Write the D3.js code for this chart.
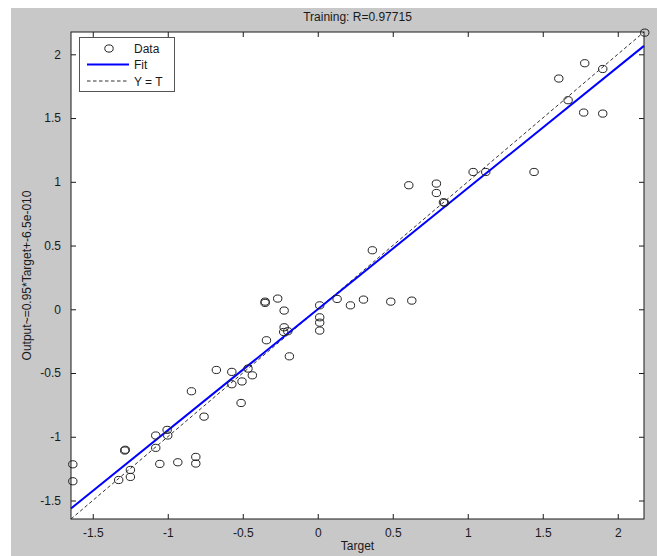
<!DOCTYPE html>
<html>
<head>
<meta charset="utf-8">
<script src="https://cdn.jsdelivr.net/npm/d3@7"></script>
<style>
  html, body { margin: 0; padding: 0; background: #ffffff; }
  svg { display: block; }
  text { font-family: "Liberation Sans", Arial, Helvetica, sans-serif; fill: #1a1a1a; }
</style>
</head>
<body>
<svg id="chart" width="657" height="556"></svg>
<script>
// Training regression: network outputs against targets
const targets = [
  2.18, 1.78, 1.90, 1.607, 1.669, 1.773, 1.90, 1.442, 1.036, 1.12,
  0.607, 0.791, 0.791, 0.838, 0.845, 0.364, 0.305, 0.487, 0.627,
  -0.351, -0.351, -0.267, -0.224, 0.013, 0.129, 0.218, 0.013, 0.013, 0.013,
  -0.224, -0.227, -0.200, -0.342, -0.189, -0.465, -0.436, -0.505,
  -0.676, -0.573, -0.573, -0.842, -0.511, -0.758, -1.004, -1.080, -1.000,
  -1.080, -1.287, -1.283, -1.053, -0.933, -0.813, -0.813, -1.249, -1.249,
  -1.327, -1.633, -1.633
];
const outputs = [
  2.17, 1.93, 1.885, 1.81, 1.64, 1.543, 1.535, 1.077, 1.077, 1.077,
  0.973, 0.986, 0.912, 0.840, 0.835, 0.463, 0.076, 0.060, 0.068,
  0.060, 0.050, 0.084, -0.010, 0.031, 0.081, 0.031, -0.063, -0.105, -0.167,
  -0.141, -0.178, -0.172, -0.243, -0.369, -0.465, -0.518, -0.566,
  -0.476, -0.491, -0.588, -0.643, -0.735, -0.842, -0.946, -0.990, -0.990,
  -1.087, -1.108, -1.102, -1.213, -1.200, -1.158, -1.210, -1.260, -1.315,
  -1.339, -1.216, -1.349
];
const axisLimits = [-1.645, 2.175];
const xTicks = [-1.5, -1, -0.5, 0, 0.5, 1, 1.5, 2];
const yTicks = [-1.5, -1, -0.5, 0, 0.5, 1, 1.5, 2];
const fitSlope = 0.95;
const fitIntercept = 6.5e-10;
const titleText = "Training: R=0.97715";
const xLabelText = "Target";
const yLabelText = "Output~=0.95*Target+-6.5e-010";
const legendLabels = ["Data", "Fit", "Y = T"];

const svg = d3.select("#chart");
const box = { left: 71, right: 644, top: 32, bottom: 519 };

// figure background
svg.append("rect").attr("x", 11).attr("y", 8).attr("width", 646).attr("height", 548)
  .attr("fill", "#c8c8c8");

const x = d3.scaleLinear().domain(axisLimits).range([box.left, box.right]);
const y = d3.scaleLinear().domain(axisLimits).range([box.bottom, box.top]);

// axes area
svg.append("rect").attr("x", box.left).attr("y", box.top)
  .attr("width", box.right - box.left).attr("height", box.bottom - box.top)
  .attr("fill", "#ffffff");

const fmt = d => String(d);
const tickLen = 5;

function styleAxis(g) {
  g.select(".domain").remove();
  g.selectAll(".tick line").attr("stroke", "#1a1a1a").attr("stroke-width", 1);
  g.selectAll(".tick text").attr("font-size", 12).attr("fill", "#1a1a1a");
}

svg.append("g").attr("transform", `translate(0,${box.bottom})`)
  .call(d3.axisBottom(x).tickValues(xTicks).tickFormat(fmt).tickSizeInner(-tickLen).tickSizeOuter(0).tickPadding(9))
  .call(styleAxis);
svg.append("g").attr("transform", `translate(0,${box.top})`)
  .call(d3.axisTop(x).tickValues(xTicks).tickFormat("").tickSizeInner(-tickLen).tickSizeOuter(0))
  .call(styleAxis);
svg.append("g").attr("transform", `translate(${box.left},0)`)
  .call(d3.axisLeft(y).tickValues(yTicks).tickFormat(fmt).tickSizeInner(-tickLen).tickSizeOuter(0).tickPadding(10))
  .call(styleAxis);
svg.append("g").attr("transform", `translate(${box.right},0)`)
  .call(d3.axisRight(y).tickValues(yTicks).tickFormat("").tickSizeInner(-tickLen).tickSizeOuter(0))
  .call(styleAxis);

const plot = svg.append("g");
plot.append("clipPath").attr("id", "clip").append("rect")
  .attr("x", box.left).attr("y", box.top)
  .attr("width", box.right - box.left).attr("height", box.bottom - box.top);

// Y = T reference line
plot.append("line")
  .attr("x1", x(axisLimits[0])).attr("y1", y(axisLimits[0]))
  .attr("x2", x(axisLimits[1])).attr("y2", y(axisLimits[1]))
  .attr("stroke", "#333").attr("stroke-width", 1).attr("stroke-dasharray", "3.5,2.5");

// linear fit
const fit = t => fitSlope * t + fitIntercept;
plot.append("line")
  .attr("x1", x(axisLimits[0])).attr("y1", y(fit(axisLimits[0])))
  .attr("x2", x(axisLimits[1])).attr("y2", y(fit(axisLimits[1])))
  .attr("stroke", "#0000ff").attr("stroke-width", 2);

// data circles
plot.selectAll("ellipse.pt").data(targets.map((t, i) => [t, outputs[i]]))
  .join("ellipse").attr("class", "pt")
  .attr("cx", d => x(d[0])).attr("cy", d => y(d[1]))
  .attr("rx", 4.2).attr("ry", 3.6)
  .attr("fill", "none").attr("stroke", "#222").attr("stroke-width", 1);

// axes frame
svg.append("rect").attr("x", box.left).attr("y", box.top)
  .attr("width", box.right - box.left).attr("height", box.bottom - box.top)
  .attr("fill", "none").attr("stroke", "#1a1a1a").attr("stroke-width", 1);

// title and axis labels
svg.append("text").attr("x", (box.left + box.right) / 2).attr("y", 21)
  .attr("text-anchor", "middle").attr("font-size", 12).text(titleText);
svg.append("text").attr("x", (box.left + box.right) / 2).attr("y", 550)
  .attr("text-anchor", "middle").attr("font-size", 12).text(xLabelText);
svg.append("text")
  .attr("transform", `translate(31,${(box.top + box.bottom) / 2}) rotate(-90)`)
  .attr("text-anchor", "middle").attr("font-size", 12).text(yLabelText);

// legend
const lg = svg.append("g");
lg.append("rect").attr("x", 79.5).attr("y", 37.5).attr("width", 95).attr("height", 54)
  .attr("fill", "#ffffff").attr("stroke", "#555").attr("stroke-width", 1);
const rowY = [48.5, 64.5, 81];
lg.append("ellipse").attr("cx", 109).attr("cy", rowY[0]).attr("rx", 4.2).attr("ry", 3.6)
  .attr("fill", "none").attr("stroke", "#222");
lg.append("line").attr("x1", 87).attr("x2", 129).attr("y1", rowY[1]).attr("y2", rowY[1])
  .attr("stroke", "#0000ff").attr("stroke-width", 2);
lg.append("line").attr("x1", 87).attr("x2", 129).attr("y1", rowY[2]).attr("y2", rowY[2])
  .attr("stroke", "#333").attr("stroke-width", 1).attr("stroke-dasharray", "3.5,2.5");
lg.selectAll("text.lab").data(legendLabels).join("text").attr("class", "lab")
  .attr("x", 134).attr("y", (d, i) => rowY[i] + 4.5)
  .attr("font-size", 12).text(d => d);
</script>
</body>
</html>
